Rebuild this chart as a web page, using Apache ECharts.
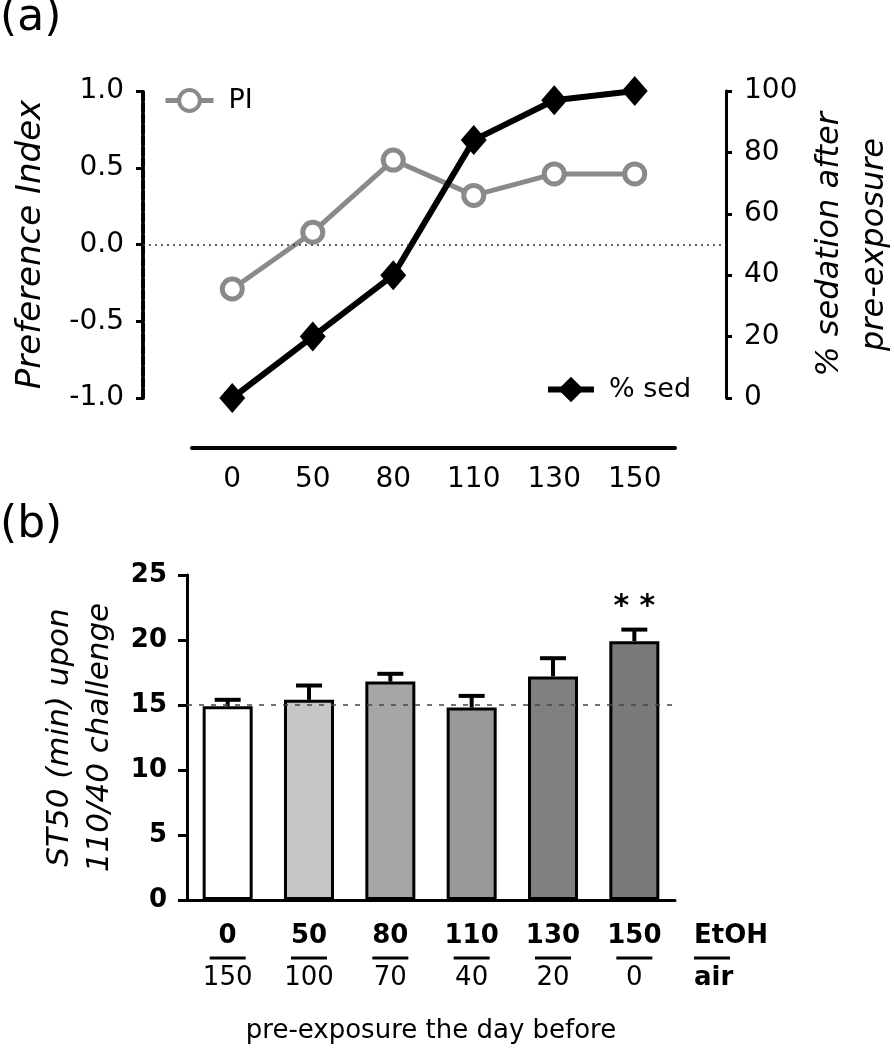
<!DOCTYPE html>
<html><head><meta charset="utf-8">
<script src="https://cdn.jsdelivr.net/npm/echarts@6/dist/echarts.min.js"></script>
<style>html,body{margin:0;padding:0;background:#fff}#c{width:894px;height:1050px}</style>
</head><body><div id="c"></div>
<script>
// ---------- data ----------
const doseCats = ['0', '50', '80', '110', '130', '150'];
const piValues = [-0.29, 0.08, 0.55, 0.32, 0.46, 0.46];
const sedValues = [0, 20, 40, 84, 97, 100];
const piRefLine = 0;

const etohLevels = ['0', '50', '80', '110', '130', '150'];
const airLevels = ['150', '100', '70', '40', '20', '0'];
const st50Values = [14.9, 15.4, 16.8, 14.8, 17.2, 19.9];
const st50Errors = [0.5, 1.1, 0.6, 0.9, 1.4, 0.9];
const significance = ['', '', '', '', '', '* *'];
const st50RefLine = 15;
const barColors = ['#ffffff', '#c6c6c6', '#a6a6a6', '#999999', '#808080', '#7a7a7a'];

// ---------- chart ----------
const FF = 'DejaVu Sans';
const PI_GREY = '#8a8a8a';
const chart = echarts.init(document.getElementById('c'), null, { renderer: 'canvas' });
const idx = doseCats.map((_, i) => i);

const option = {
  backgroundColor: '#fff',
  animation: false,
  textStyle: { fontFamily: FF, color: '#000' },
  title: [
    { text: '(a)', left: 0, top: -3, padding: 0, textStyle: { fontFamily: FF, fontSize: 44, fontWeight: 'normal', color: '#000' } },
    { text: '(b)', left: 0, top: 504, padding: 0, textStyle: { fontFamily: FF, fontSize: 44, fontWeight: 'normal', color: '#000' } },
    {
      text: '{e|EtOH}\n{l|}\n{a|air}', left: 694, top: 921, padding: 0,
      textStyle: {
        rich: {
          e: { fontFamily: FF, fontSize: 26, fontWeight: 'bold', lineHeight: 30, color: '#000' },
          l: { width: 36, height: 3, backgroundColor: '#000', lineHeight: 14 },
          a: { fontFamily: FF, fontSize: 26, fontWeight: 'bold', lineHeight: 26, color: '#000' }
        }
      }
    }
  ],
  legend: [
    {
      data: ['PI'], left: 163, top: 87, padding: 0, itemWidth: 48, itemHeight: 26,
      lineStyle: { width: 5 }, itemStyle: { borderWidth: 4 },
      textStyle: { fontFamily: FF, fontSize: 27, color: '#000', padding: [0, 0, 0, 10] }
    },
    {
      data: ['% sed'], left: 545, top: 376, padding: 0, itemWidth: 46, itemHeight: 32,
      lineStyle: { width: 6 },
      textStyle: { fontFamily: FF, fontSize: 27, color: '#000', padding: [0, 0, 0, 10] }
    }
  ],
  grid: [
    { left: 143, width: 583, top: 91, height: 307, containLabel: false, outerBoundsMode: 'none' },
    { left: 192, width: 483, top: 446, height: 2, containLabel: false, outerBoundsMode: 'none' },
    { left: 187, width: 488, top: 575, height: 325, containLabel: false, outerBoundsMode: 'none' }
  ],
  xAxis: [
    { gridIndex: 0, type: 'value', min: -1.109, max: 6.134, show: false },
    {
      gridIndex: 1, type: 'category', data: doseCats, boundaryGap: true, position: 'bottom',
      axisLine: { lineStyle: { color: '#000', width: 4 } },
      axisTick: { length: 5, lineStyle: { color: '#000', width: 2 }, alignWithLabel: true },
      axisLabel: { fontFamily: FF, fontSize: 28, color: '#000', margin: 18 }
    },
    {
      gridIndex: 2, type: 'category', data: etohLevels, boundaryGap: true,
      axisLine: { lineStyle: { color: '#000', width: 3 } },
      axisTick: { length: 8, lineStyle: { color: '#000', width: 3 }, alignWithLabel: true },
      axisLabel: {
        margin: 21,
        formatter: (val, i) => `{t|${etohLevels[i]}}\n{l|}\n{b|${airLevels[i]}}`,
        rich: {
          t: { fontFamily: FF, fontSize: 26, fontWeight: 'bold', lineHeight: 30, color: '#000' },
          l: { width: 36, height: 3, backgroundColor: '#000', lineHeight: 14 },
          b: { fontFamily: FF, fontSize: 26, lineHeight: 26, color: '#000' }
        }
      },
      name: 'pre-exposure the day before', nameLocation: 'middle', nameGap: 118,
      nameTextStyle: { fontFamily: FF, fontSize: 26, color: '#000' }
    }
  ],
  yAxis: [
    {
      gridIndex: 0, type: 'value', position: 'left', min: -1, max: 1, interval: 0.5,
      axisLine: { show: true, onZero: false, lineStyle: { color: '#000', width: 4, type: [9, 2] } },
      axisTick: { show: true, length: 7, lineStyle: { color: '#000', width: 3 } },
      axisLabel: { fontFamily: FF, fontSize: 28, color: '#000', margin: 19, formatter: v => v.toFixed(1) },
      splitLine: { show: false },
      name: 'Preference Index', nameLocation: 'middle', nameGap: 95, nameRotate: 90, nameMoveOverlap: false,
      nameTextStyle: { fontFamily: FF, fontSize: 34, fontStyle: 'italic', color: '#000' }
    },
    {
      gridIndex: 0, type: 'value', position: 'right', min: 0, max: 100, interval: 20,
      axisLine: { show: true, onZero: false, lineStyle: { color: '#000', width: 3 } },
      axisTick: { show: true, length: 6, lineStyle: { color: '#000', width: 3 } },
      axisLabel: { fontFamily: FF, fontSize: 28, color: '#000', margin: 18 },
      splitLine: { show: false },
      name: '% sedation after\npre-exposure', nameLocation: 'middle', nameGap: 81, nameRotate: 90, nameMoveOverlap: false,
      nameTextStyle: { fontFamily: FF, fontSize: 32, fontStyle: 'italic', color: '#000', lineHeight: 45 }
    },
    { gridIndex: 1, type: 'value', show: false },
    {
      gridIndex: 2, type: 'value', min: 0, max: 25, interval: 5,
      axisLine: { show: true, onZero: false, lineStyle: { color: '#000', width: 3 } },
      axisTick: { show: true, length: 9, lineStyle: { color: '#000', width: 3 } },
      axisLabel: { fontFamily: FF, fontSize: 26, fontWeight: 'bold', color: '#000', margin: 20 },
      splitLine: { show: false },
      name: 'ST50 (min) upon\n110/40 challenge', nameLocation: 'middle', nameGap: 67, nameRotate: 90, nameMoveOverlap: false,
      nameTextStyle: { fontFamily: FF, fontSize: 31, fontStyle: 'italic', color: '#000', lineHeight: 40 }
    }
  ],
  series: [
    {
      type: 'line', xAxisIndex: 0, yAxisIndex: 0, data: [], z: 1, silent: true,
      markLine: {
        silent: true, symbol: 'none', label: { show: false },
        lineStyle: { color: '#333', type: [2, 4], width: 1.5 },
        data: [{ yAxis: piRefLine }]
      }
    },
    {
      name: 'PI', type: 'line', xAxisIndex: 0, yAxisIndex: 0, z: 3,
      data: piValues.map((v, i) => [idx[i], v]),
      color: PI_GREY,
      lineStyle: { width: 5, color: PI_GREY, type: 'solid' },
      symbol: 'circle', symbolSize: 20,
      itemStyle: { color: '#fff', borderColor: PI_GREY, borderWidth: 5 }
    },
    {
      name: '% sed', type: 'line', xAxisIndex: 0, yAxisIndex: 1, z: 4,
      data: sedValues.map((v, i) => [idx[i], v]),
      color: '#000',
      lineStyle: { width: 6, color: '#000', type: 'solid' },
      symbol: 'diamond', symbolSize: [26, 30],
      itemStyle: { color: '#000' }
    },
    {
      type: 'line', xAxisIndex: 2, yAxisIndex: 3, data: [], z: 1, silent: true,
      markLine: {
        silent: true, symbol: 'none', label: { show: false },
        lineStyle: { color: '#444', type: [5, 7], width: 1.5 },
        data: [{ yAxis: st50RefLine }]
      }
    },
    {
      type: 'bar', xAxisIndex: 2, yAxisIndex: 3, z: 3, barWidth: 50,
      data: st50Values.map((v, i) => ({ value: v, itemStyle: { color: barColors[i] } })),
      itemStyle: { borderColor: '#000', borderWidth: 3 }
    },
    {
      type: 'custom', xAxisIndex: 2, yAxisIndex: 3, z: 4,
      data: st50Values.map((v, i) => [i, v, st50Errors[i]]),
      renderItem: (params, api) => {
        const i = api.value(0), v = api.value(1), e = api.value(2);
        const base = api.coord([i, v]);
        const top = api.coord([i, v + e]);
        const cap = 13;
        const children = [
          { type: 'line', shape: { x1: base[0], y1: base[1], x2: top[0], y2: top[1] }, style: { stroke: '#000', lineWidth: 4 } },
          { type: 'line', shape: { x1: top[0] - cap, y1: top[1], x2: top[0] + cap, y2: top[1] }, style: { stroke: '#000', lineWidth: 4 } }
        ];
        const s = significance[params.dataIndex];
        if (s) {
          children.push({
            type: 'text', x: top[0], y: top[1] - 22,
            style: { text: s, fontFamily: FF, fontSize: 30, fontWeight: 'bold', fill: '#000', align: 'center', verticalAlign: 'middle' }
          });
        }
        return { type: 'group', children };
      }
    }
  ]
};
chart.setOption(option);
</script>
</body></html>
